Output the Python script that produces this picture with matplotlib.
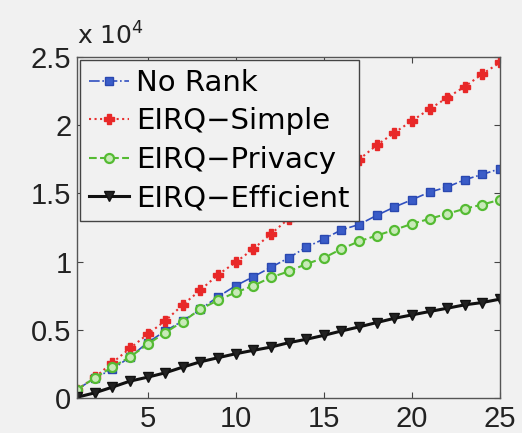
import matplotlib
matplotlib.use("Agg")
import matplotlib.pyplot as plt
from matplotlib.ticker import FuncFormatter

x = list(range(1, 26))
no_rank = [600, 1470, 2090, 3000, 4050, 4910, 5650, 6510, 7420, 8230, 8890, 9580, 10270,
           11050, 11660, 12330, 12720, 13390, 14000, 14540, 15100, 15470, 16010, 16400, 16820]
simple = [600, 1500, 2580, 3630, 4670, 5650, 6830, 7910, 9040, 9950, 10930, 12030, 13140,
          14240, 15280, 16400, 17490, 18540, 19450, 20330, 21190, 22030, 22840, 23770, 24610]
privacy = [600, 1470, 2260, 3000, 3930, 4790, 5600, 6510, 7170, 7740, 8230, 8840, 9280,
           9820, 10270, 10930, 11490, 11910, 12330, 12770, 13140, 13510, 13880, 14190, 14540]
efficient = [50, 370, 790, 1230, 1520, 1840, 2260, 2650, 2950, 3240, 3490, 3730, 4050,
             4300, 4590, 4910, 5210, 5530, 5840, 6090, 6340, 6580, 6830, 7000, 7250]
labels = ["No Rank", "EIRQ\u2212Simple", "EIRQ\u2212Privacy", "EIRQ\u2212Efficient"]
xticks = [5, 10, 15, 20, 25]
yticks = [0, 5000, 10000, 15000, 20000, 25000]

plt.rcParams['font.family'] = ['Liberation Sans', 'DejaVu Sans']
bg = '#f1f1f1'
fig = plt.figure(figsize=(5.22, 4.33), dpi=100, facecolor=bg)
ax = fig.add_axes([0.1475, 0.081, 0.958 - 0.1475, 0.868 - 0.081], facecolor=bg)

ax.plot(x, no_rank, color='#3050c0', linestyle='-.', linewidth=1.2, marker='s',
        markersize=6, markerfacecolor='#3a5cc8', markeredgecolor='#2a48b0', label=labels[0])
ax.plot(x, simple, color='#e83030', linestyle=':', linewidth=1.5, marker='P',
        markersize=7, markerfacecolor='#e82828', markeredgecolor='#e82828', label=labels[1])
ax.plot(x, privacy, color='#55bb33', linestyle='--', linewidth=1.5, marker='o',
        markersize=6.5, markerfacecolor='#c8eab8', markeredgecolor='#55bb33',
        markeredgewidth=1.6, label=labels[2])
ax.plot(x, efficient, color='#111111', linestyle='-', linewidth=2.2, marker='v',
        markersize=7, markerfacecolor='#222222', markeredgecolor='#111111', label=labels[3])

ax.set_xlim(1, 25)
ax.set_ylim(0, 25000)
ax.set_xticks(xticks)
ax.set_yticks(yticks)
ax.yaxis.set_major_formatter(FuncFormatter(lambda v, p: '%g' % (v / 1e4)))
ax.tick_params(direction='in', top=True, right=True, length=4, width=0.8,
               labelsize=21, colors='#444444', labelcolor='#222222')
ax.tick_params(axis='x', pad=5)
ax.tick_params(axis='y', pad=4)
for s in ax.spines.values():
    s.set_color('#555555')
    s.set_linewidth(1.0)

fig.text(0.1475, 0.885, 'x 10$^{4}$', fontsize=18, color='#222222', ha='left', va='bottom',
         family=['DejaVu Sans'])

leg = ax.legend(loc='upper left', prop={'family': 'DejaVu Sans', 'size': 21},
                frameon=True, fancybox=False,
                borderaxespad=0.1, handlelength=1.4, handletextpad=0.24,
                labelspacing=0.36, borderpad=0.3, facecolor=bg, framealpha=1)
leg.get_frame().set_edgecolor('#444444')
leg.get_frame().set_linewidth(1.0)

fig.savefig('out.png', dpi=100, facecolor=bg)
